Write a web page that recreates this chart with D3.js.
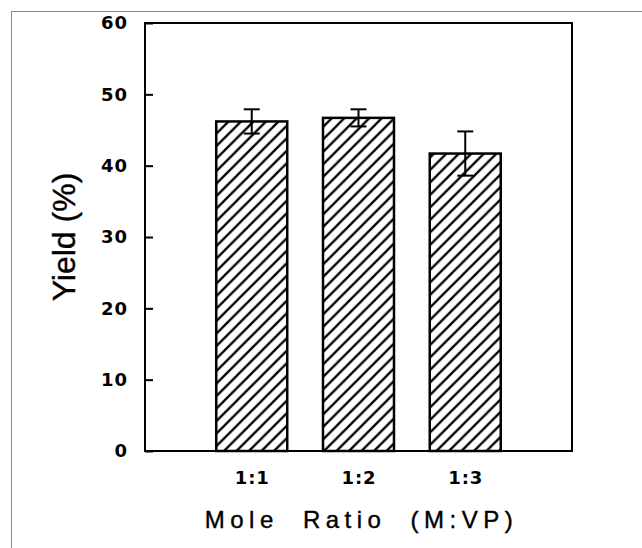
<!DOCTYPE html>
<html>
<head>
<meta charset="utf-8">
<script src="https://cdn.jsdelivr.net/npm/d3@7"></script>
<style>
  body { margin: 0; background: white; }
  svg { display: block; }
</style>
</head>
<body>
<svg id="chart" width="642" height="548"></svg>
<script>
// data
var ratios = ["1:1", "1:2", "1:3"];
var yieldVals = [46.2, 46.7, 41.7];
var yieldErr = [1.7, 1.2, 3.1];
var yTicks = [0, 10, 20, 30, 40, 50, 60];

var svg = d3.select("#chart");

// outer grey frame
svg.append("rect")
    .attr("x", 11.5)
    .attr("y", 11.5)
    .attr("width", 640)
    .attr("height", 545)
    .attr("fill", "none")
    .attr("stroke", "#8a8a8a")
    .attr("stroke-width", 1);

var plotLeft = 145, plotRight = 572, plotTop = 23, plotBottom = 451;

var x = d3.scaleLinear().domain([0, ratios.length + 1]).range([plotLeft, plotRight]);
var y = d3.scaleLinear().domain([0, 60]).range([plotBottom, plotTop]);

var barW = x(0.665) - x(0);

// hatch pattern for the bars
var s = 12.5;
var defs = svg.append("defs");
defs.append("pattern")
    .attr("id", "hatch")
    .attr("patternUnits", "userSpaceOnUse")
    .attr("width", s)
    .attr("height", s)
    .append("path")
    .attr("d", "M0," + s + "L" + s + ",0M-2,2L2,-2M" + (s - 2) + "," + (s + 2) + "L" + (s + 2) + "," + (s - 2))
    .attr("stroke", "black")
    .attr("stroke-width", 2.3);

// bars
svg.selectAll(".bar")
    .data(yieldVals)
    .enter()
    .append("rect")
    .attr("class", "bar")
    .attr("x", function(d, i) { return x(i + 1) - barW / 2; })
    .attr("y", function(d) { return y(d); })
    .attr("width", barW)
    .attr("height", function(d) { return y(0) - y(d); })
    .attr("fill", "url(#hatch)")
    .attr("stroke", "black")
    .attr("stroke-width", 2.5);

// error bars
var capW = 16;
var err = svg.selectAll(".err")
    .data(yieldVals)
    .enter()
    .append("g")
    .attr("class", "err")
    .attr("stroke", "black")
    .attr("stroke-width", 2);

err.append("line")
    .attr("x1", function(d, i) { return x(i + 1); })
    .attr("x2", function(d, i) { return x(i + 1); })
    .attr("y1", function(d, i) { return y(d + yieldErr[i]); })
    .attr("y2", function(d, i) { return y(d - yieldErr[i]); });

err.append("line")
    .attr("x1", function(d, i) { return x(i + 1) - capW / 2; })
    .attr("x2", function(d, i) { return x(i + 1) + capW / 2; })
    .attr("y1", function(d, i) { return y(d + yieldErr[i]); })
    .attr("y2", function(d, i) { return y(d + yieldErr[i]); });

err.append("line")
    .attr("x1", function(d, i) { return x(i + 1) - capW / 2; })
    .attr("x2", function(d, i) { return x(i + 1) + capW / 2; })
    .attr("y1", function(d, i) { return y(d - yieldErr[i]); })
    .attr("y2", function(d, i) { return y(d - yieldErr[i]); });

// plot frame
svg.append("rect")
    .attr("x", plotLeft)
    .attr("y", plotTop)
    .attr("width", plotRight - plotLeft)
    .attr("height", plotBottom - plotTop)
    .attr("fill", "none")
    .attr("stroke", "black")
    .attr("stroke-width", 2);

// y axis
var yAxis = svg.append("g")
    .attr("transform", "translate(" + plotLeft + ",0)")
    .call(d3.axisLeft(y).tickValues(yTicks).tickSizeInner(-8).tickSizeOuter(0).tickPadding(17));
yAxis.select(".domain").remove();
yAxis.selectAll("line").attr("stroke", "black").attr("stroke-width", 2);
yAxis.selectAll("text")
    .attr("font-family", "DejaVu Sans")
    .attr("font-weight", "bold")
    .attr("font-size", "18px")
    .attr("letter-spacing", "1px")
    .attr("fill", "black");

// x axis labels
var xAxis = svg.append("g")
    .attr("transform", "translate(0," + plotBottom + ")")
    .call(d3.axisBottom(x).tickValues([1, 2, 3]).tickSize(0).tickPadding(20)
        .tickFormat(function(d) { return ratios[d - 1]; }));
xAxis.select(".domain").remove();
xAxis.selectAll("text")
    .attr("font-family", "DejaVu Sans")
    .attr("font-weight", "bold")
    .attr("font-size", "18px")
    .attr("letter-spacing", "1px")
    .attr("fill", "black");

// axis titles
svg.append("text")
    .attr("transform", "translate(75," + ((plotTop + plotBottom) / 2) + ") rotate(-90)")
    .attr("text-anchor", "middle")
    .attr("font-family", "Liberation Sans, Arial, sans-serif")
    .attr("font-size", "32px")
    .attr("stroke", "black")
    .attr("stroke-width", 0.4)
    .text("Yield (%)");

svg.append("text")
    .attr("x", (plotLeft + plotRight) / 2 + 3)
    .attr("y", 528)
    .attr("text-anchor", "middle")
    .attr("font-family", "Liberation Sans, Arial, sans-serif")
    .attr("font-size", "24px")
    .attr("letter-spacing", "5.5px")
    .attr("word-spacing", "12px")
    .attr("stroke", "black")
    .attr("stroke-width", 0.4)
    .text("Mole Ratio (M:VP)");
</script>
</body>
</html>
